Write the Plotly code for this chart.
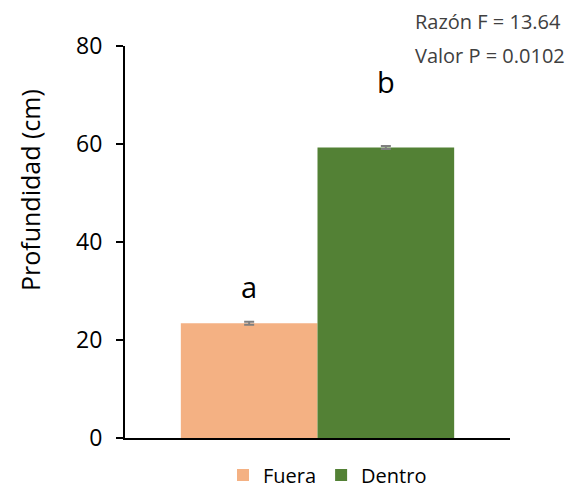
import plotly.graph_objects as go

series = ["Fuera", "Dentro"]
values = [23.4, 59.3]
errors = [0.3, 0.3]
letters = ["a", "b"]
letter_y = [31.0, 72.8]
colors = ["#F4B183", "#538135"]
stats_lines = ["Razón F = 13.64", "Valor P = 0.0102"]
y_ticks = [0, 20, 40, 60, 80]
y_title = "Profundidad (cm)"

bargap = 0.29
cat = [""]
font = "Open Sans, sans-serif"

L, R, T, B, W, H = 125, 61, 46, 54, 571, 492
pw, ph = W - L - R, H - T - B

fig = go.Figure()
for s, v, e, c in zip(series, values, errors, colors):
    fig.add_trace(go.Bar(
        x=cat, y=[v], name=s, marker=dict(color=c, line=dict(width=0)),
        error_y=dict(type="data", array=[e], color="#7F7F7F", thickness=2, width=5),
    ))

bw = (1 - bargap) / len(series)
for i, (l, ly) in enumerate(zip(letters, letter_y)):
    xpos = -0.5 + bargap / 2 + bw * (i + 0.5)
    fig.add_annotation(x=xpos, y=ly, xref="x", yref="y", text=l, showarrow=False,
                       font=dict(family=font, size=29, color="#000000"))

for j, line in enumerate(stats_lines):
    fig.add_annotation(x=(413 - L) / pw, y=(H - B - (22 + 33 * j)) / ph, xref="paper", yref="paper",
                       text=line, showarrow=False, xanchor="left", yanchor="middle",
                       font=dict(family=font, size=20, color="#404040"))

# y-axis title placed as a rotated annotation (offset like the original)
fig.add_annotation(x=(30 - L) / pw, y=(H - B - 190) / ph, xref="paper", yref="paper",
                   text=y_title, textangle=-90, showarrow=False, xanchor="center", yanchor="middle",
                   font=dict(family=font, size=25, color="#000000"))

fig.update_layout(
    width=W, height=H,
    margin=dict(l=L, r=R, t=T, b=B, autoexpand=False),
    paper_bgcolor="white", plot_bgcolor="white",
    barmode="group", bargap=bargap, bargroupgap=0,
    font=dict(family=font, color="#000000"),
    showlegend=True,
    legend=dict(orientation="h", x=0.5 + 10 / pw, xanchor="center", y=-37 / ph, yanchor="middle",
                font=dict(family=font, size=20, color="#000000"), itemwidth=30,
                traceorder="normal"),
)
fig.update_xaxes(showline=True, linecolor="#000000", linewidth=2, showticklabels=False,
                 ticks="", showgrid=False, zeroline=False, range=[-0.5, 0.5])
fig.update_yaxes(range=[0, 80], tickvals=y_ticks, showline=True, linecolor="#000000",
                 linewidth=2, ticks="outside", ticklen=7, tickwidth=2, tickcolor="#000000",
                 showgrid=False, zeroline=False, ticklabelstandoff=9,
                 tickfont=dict(family=font, size=23, color="#000000"))

fig.write_html("out.html")
